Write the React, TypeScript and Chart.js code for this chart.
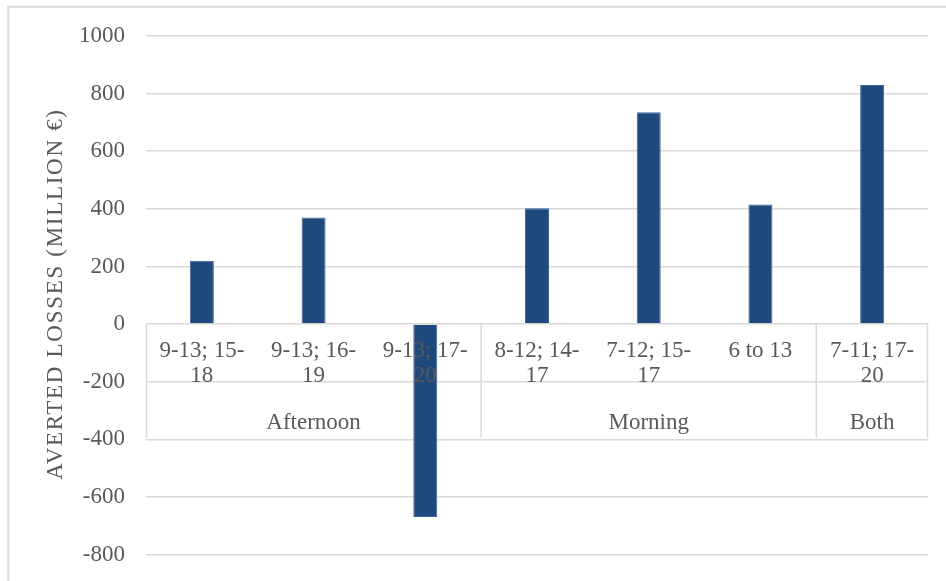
import React, { useEffect, useRef } from 'react';
import { Chart, registerables } from 'chart.js';

Chart.register(...registerables);

// Time windows (first axis level), already wrapped into lines
const categories: string[][] = [
  ['9-13; 15-', '18'],
  ['9-13; 16-', '19'],
  ['9-13; 17-', '20'],
  ['8-12; 14-', '17'],
  ['7-12; 15-', '17'],
  ['6 to 13'],
  ['7-11; 17-', '20'],
];

// Second axis level and how many windows each group spans
const groupNames = ['Afternoon', 'Morning', 'Both'];
const groupSizes = [3, 3, 1];

// Averted losses, million €
const avertedLosses = [220, 370, -670, 402, 735, 415, 830];

const yTicks = [-800, -600, -400, -200, 0, 200, 400, 600, 800, 1000];
const yTitle = 'AVERTED LOSSES (MILLION €)';

const FONT = "'Liberation Serif', 'Times New Roman', Times, serif";
const TEXT = '#595959';
const LINE = '#d9d9d9';
const BAR = '#1F497D';

const framePlugin = {
  id: 'frame',
  beforeDraw(chart: any) {
    const { ctx, width, height } = chart;
    ctx.save();
    ctx.fillStyle = '#ffffff';
    ctx.fillRect(0, 0, width, height);
    ctx.strokeStyle = LINE;
    ctx.lineWidth = 2;
    ctx.beginPath();
    ctx.moveTo(8.3, height + 5);
    ctx.lineTo(8.3, 6.7);
    ctx.lineTo(width + 5, 6.7);
    ctx.stroke();

    // rotated value-axis title
    ctx.translate(56, 294);
    ctx.rotate(-Math.PI / 2);
    ctx.font = `23px ${FONT}`;
    (ctx as any).letterSpacing = '1.7px';
    ctx.fillStyle = TEXT;
    ctx.textAlign = 'center';
    ctx.textBaseline = 'middle';
    ctx.fillText(yTitle, 0, 0);
    ctx.restore();
  },
};

// Two-level category axis drawn as a table hanging from the zero line;
// its horizontal rules are the -200 and -400 gridlines.
const groupBounds = () => {
  const bounds: number[] = [-0.5];
  let acc = -0.5;
  groupSizes.forEach((n) => {
    acc += n;
    bounds.push(acc);
  });
  return bounds;
};

const categoryTablePlugin = {
  id: 'categoryTable',
  beforeDatasetsDraw(chart: any) {
    const { ctx, chartArea, scales } = chart;
    const x = scales.x;
    const y0 = scales.y.getPixelForValue(0);
    const yEnd = scales.y.getPixelForValue(-400);
    ctx.save();
    ctx.strokeStyle = LINE;
    ctx.lineWidth = 1.5;
    ctx.beginPath();
    groupBounds().forEach((b) => {
      const px = Math.min(Math.max(x.getPixelForValue(b), chartArea.left + 0.5), chartArea.right - 0.5);
      ctx.moveTo(px, y0);
      ctx.lineTo(px, yEnd - 1.5);
    });
    ctx.stroke();
    ctx.restore();
  },
  afterDatasetsDraw(chart: any) {
    const { ctx, scales } = chart;
    const x = scales.x;
    const y0 = scales.y.getPixelForValue(0);
    ctx.save();
    ctx.font = `23px ${FONT}`;
    ctx.fillStyle = TEXT;
    ctx.textAlign = 'center';
    ctx.textBaseline = 'middle';
    categories.forEach((lines, i) => {
      const cx = x.getPixelForValue(i);
      lines.forEach((t, j) => ctx.fillText(t, cx, y0 + 27.2 + j * 24.5));
    });
    const bounds = groupBounds();
    groupNames.forEach((name, g) => {
      const cx = (x.getPixelForValue(bounds[g]) + x.getPixelForValue(bounds[g + 1])) / 2;
      ctx.fillText(name, cx, y0 + 99);
    });
    ctx.restore();
  },
};

export default function App() {
  const canvasRef = useRef<HTMLCanvasElement | null>(null);

  useEffect(() => {
    if (!canvasRef.current) return;
    const chart = new Chart(canvasRef.current, {
      type: 'bar',
      data: {
        labels: categories,
        datasets: [
          {
            data: avertedLosses,
            backgroundColor: BAR,
            borderColor: '#3d6696',
            borderWidth: 1,
            barPercentage: 0.215,
            categoryPercentage: 1,
          },
        ],
      },
      options: {
        animation: false,
        responsive: false,
        layout: { padding: { top: 36, bottom: 3, left: 0, right: 18 } },
        plugins: { legend: { display: false }, tooltip: { enabled: false } },
        scales: {
          x: { display: false },
          y: {
            min: -852,
            max: 1000,
            afterBuildTicks: (s: any) => {
              s.ticks = yTicks.map((v) => ({ value: v }));
            },
            afterFit: (s: any) => {
              s.width = 146;
            },
            border: { display: false },
            grid: {
              color: LINE,
              lineWidth: 1.5,
              drawTicks: true,
              tickLength: 21,
              tickColor: 'rgba(0,0,0,0)',
            },
            ticks: {
              padding: 0,
              color: TEXT,
              font: { family: FONT, size: 23, lineHeight: 1 },
              callback: (v: any) => String(v),
            },
          },
        },
      },
      plugins: [framePlugin, categoryTablePlugin],
    });
    return () => chart.destroy();
  }, []);

  return (
    <div style={{ position: 'fixed', left: 0, top: 0, width: 946, height: 581 }}>
      <canvas ref={canvasRef} width={946} height={581} style={{ display: 'block' }} />
    </div>
  );
}
